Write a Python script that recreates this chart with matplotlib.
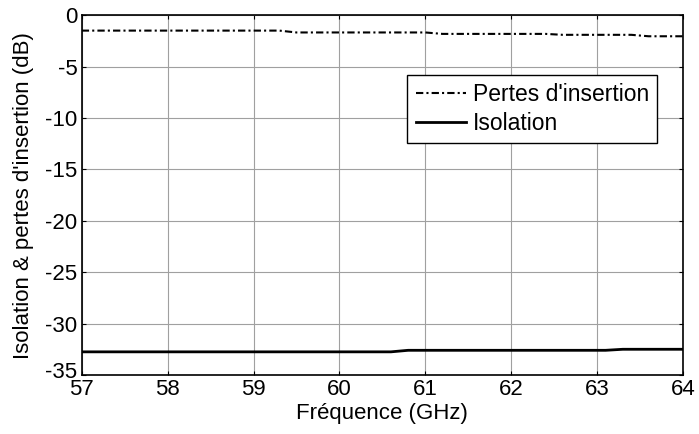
import matplotlib
matplotlib.use('Agg')
import matplotlib.pyplot as plt
from matplotlib.transforms import ScaledTranslation

plt.rcParams['font.family'] = ['Liberation Sans', 'DejaVu Sans']
plt.rcParams['axes.unicode_minus'] = False

# frequences (GHz) et niveaux (dB)
freq_pertes = [57, 58, 59, 59.3, 59.5, 60, 61, 61.2, 62, 62.4, 62.6, 63, 63.4, 63.6, 64]
pertes = [-1.5, -1.5, -1.5, -1.5, -1.68, -1.68, -1.68, -1.82, -1.82, -1.82, -1.91, -1.91, -1.91, -2.05, -2.05]

freq_iso = [57, 58, 59, 60, 60.6, 60.8, 61, 62, 63, 63.1, 63.3, 64]
isolation = [-32.75, -32.75, -32.75, -32.75, -32.75, -32.6, -32.6, -32.6, -32.6, -32.6, -32.5, -32.5]

xticks = [57, 58, 59, 60, 61, 62, 63, 64]
yticks = [0, -5, -10, -15, -20, -25, -30, -35]

fig = plt.figure(figsize=(6.99, 4.34), dpi=100)
ax = fig.add_axes([0.117, 0.136, 0.86, 0.829])

ax.plot(freq_pertes, pertes, color='black', linestyle=(0, (3.5, 1.5, 1, 1.5)), linewidth=1.5,
        label="Pertes d'insertion")
ax.plot(freq_iso, isolation, color='black', linestyle='-', linewidth=2,
        label='Isolation')

ax.set_xlim(57, 64)
ax.set_ylim(-35, 0)
ax.set_xticks(xticks)
ax.set_yticks(yticks)
ax.tick_params(direction='in', top=True, right=True, labelsize=16, length=3, pad=3)
ax.grid(True, color='#a0a0a0', linewidth=0.8)
for s in ax.spines.values():
    s.set_linewidth(1.2)

# le -35 remonte un peu, comme sur l'original
lab = ax.get_yticklabels()[-1]
lab.set_transform(lab.get_transform() + ScaledTranslation(0, 0.05, fig.dpi_scale_trans))

ax.set_xlabel('Fréquence (GHz)', fontsize=16, labelpad=2)
ax.set_ylabel("Isolation & pertes d'insertion (dB)", fontsize=16, labelpad=8)

leg = ax.legend(loc='upper right', bbox_to_anchor=(0.957, 0.833), fontsize=16.5,
                fancybox=False, framealpha=1, edgecolor='black',
                handlelength=2.2, handletextpad=0.3, borderpad=0.35,
                labelspacing=0.25, borderaxespad=0)
leg.get_frame().set_linewidth(1.0)

fig.savefig('out.png', dpi=100)
